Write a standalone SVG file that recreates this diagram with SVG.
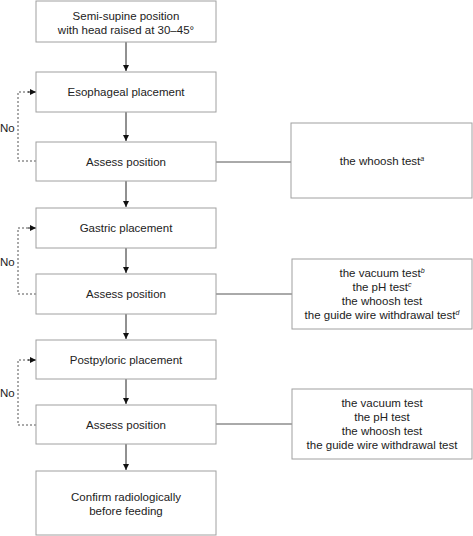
<svg xmlns="http://www.w3.org/2000/svg" width="473" height="536" viewBox="0 0 473 536">
<style>
.box{fill:#fff;stroke:#a0a0a0;stroke-width:1}
.t{font-family:"Liberation Sans",Arial,sans-serif;font-size:11.5px;fill:#222;text-anchor:middle}
.lbl{font-family:"Liberation Sans",Arial,sans-serif;font-size:11.5px;fill:#222}
.sup{font-size:7px;font-style:italic}
.flow{stroke:#222;stroke-width:1;fill:none}
.side{stroke:#555;stroke-width:1;fill:none}
.dash{stroke:#555;stroke-width:1;fill:none;stroke-dasharray:2,2}
</style>
<defs>
<marker id="ah" viewBox="0 0 10 10" refX="10" refY="5" markerWidth="6.5" markerHeight="9" markerUnits="userSpaceOnUse" orient="auto">
<path d="M0,0 L10,5 L0,10 Z" fill="#111"/>
</marker>
</defs>
<rect width="473" height="536" fill="#fff"/>
<g id="connectors">
<line class="flow" x1="126" y1="42" x2="126" y2="71" marker-end="url(#ah)"/>
<line class="flow" x1="126" y1="112" x2="126" y2="141" marker-end="url(#ah)"/>
<line class="flow" x1="126" y1="181" x2="126" y2="207" marker-end="url(#ah)"/>
<line class="flow" x1="126" y1="248" x2="126" y2="273" marker-end="url(#ah)"/>
<line class="flow" x1="126" y1="314" x2="126" y2="339" marker-end="url(#ah)"/>
<line class="flow" x1="126" y1="379" x2="126" y2="404" marker-end="url(#ah)"/>
<line class="flow" x1="126" y1="444" x2="126" y2="470" marker-end="url(#ah)"/>
<line class="side" x1="216" y1="162" x2="291" y2="162"/>
<line class="side" x1="216" y1="294" x2="292" y2="294"/>
<line class="side" x1="216" y1="424" x2="292" y2="424"/>
<polyline class="dash" points="36,161 18,161 18,92 30,92"/>
<line x1="28" y1="92" x2="36" y2="92" stroke="#111" marker-end="url(#ah)"/>
<polyline class="dash" points="36,294 18,294 18,228 30,228"/>
<line x1="28" y1="228" x2="36" y2="228" stroke="#111" marker-end="url(#ah)"/>
<polyline class="dash" points="36,425 18,425 18,360 30,360"/>
<line x1="28" y1="360" x2="36" y2="360" stroke="#111" marker-end="url(#ah)"/>
<text class="lbl" x="0" y="132">No</text>
<text class="lbl" x="0" y="266">No</text>
<text class="lbl" x="0" y="397">No</text>
</g>
<g id="n1"><rect class="box" x="36" y="1" width="180" height="41"/>
<text class="t" x="126" y="20">Semi-supine position</text>
<text class="t" x="126" y="34">with head raised at 30–45°</text></g>
<g id="n2"><rect class="box" x="36" y="72" width="180" height="40"/>
<text class="t" x="126" y="96">Esophageal placement</text></g>
<g id="n3"><rect class="box" x="36" y="142" width="180" height="39"/>
<text class="t" x="126" y="166">Assess position</text></g>
<g id="n4"><rect class="box" x="36" y="208" width="180" height="40"/>
<text class="t" x="126" y="232">Gastric placement</text></g>
<g id="n5"><rect class="box" x="36" y="274" width="180" height="40"/>
<text class="t" x="126" y="298">Assess position</text></g>
<g id="n6"><rect class="box" x="36" y="340" width="180" height="39"/>
<text class="t" x="126" y="364">Postpyloric placement</text></g>
<g id="n7"><rect class="box" x="36" y="405" width="180" height="39"/>
<text class="t" x="126" y="429">Assess position</text></g>
<g id="n8"><rect class="box" x="36" y="471" width="180" height="64"/>
<text class="t" x="126" y="501">Confirm radiologically</text>
<text class="t" x="126" y="515">before feeding</text></g>
<g id="r1"><rect class="box" x="291" y="123" width="181" height="75"/>
<text class="t" x="382" y="165">the whoosh test<tspan class="sup" dy="-4">a</tspan></text></g>
<g id="r2"><rect class="box" x="292" y="259" width="180" height="70"/>
<text class="t" x="382" y="277">the vacuum test<tspan class="sup" dy="-4">b</tspan></text>
<text class="t" x="382" y="291">the pH test<tspan class="sup" dy="-4">c</tspan></text>
<text class="t" x="382" y="305">the whoosh test</text>
<text class="t" x="382" y="319">the guide wire withdrawal test<tspan class="sup" dy="-4">d</tspan></text></g>
<g id="r3"><rect class="box" x="292" y="389" width="180" height="70"/>
<text class="t" x="382" y="407">the vacuum test</text>
<text class="t" x="382" y="421">the pH test</text>
<text class="t" x="382" y="435">the whoosh test</text>
<text class="t" x="382" y="449">the guide wire withdrawal test</text></g>
</svg>
